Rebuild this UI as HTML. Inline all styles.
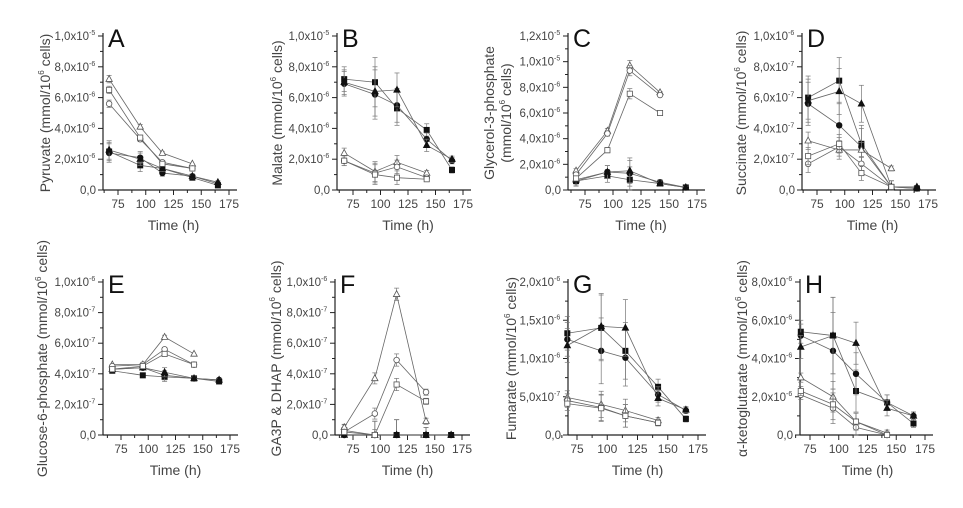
<!DOCTYPE html>
<html><head><meta charset="utf-8"><style>
html,body{margin:0;padding:0;background:#fff;}
svg{display:block;font-family:"Liberation Sans",sans-serif;}
</style></head><body>
<svg id="fig" width="963" height="508" viewBox="0 0 963 508" xmlns="http://www.w3.org/2000/svg"></svg>
<script>
// time points (h)
const times = [67, 95, 115, 142, 165];
const xTicks = [75, 100, 125, 150, 175];
// series order: filled square, filled circle, filled triangle, open triangle, open circle, open square
// Panel A Pyruvate (x1e-6)
const aFsq=[2.5,1.6,1.4,0.8,0.3], aFci=[2.4,2.1,1.1,0.9,0.4], aFtr=[2.6,2.0,1.4,0.9,0.5];
const aOtr=[7.2,4.1,2.4,1.7], aOci=[5.6,3.3,1.8,1.4], aOsq=[6.5,3.4,1.7,1.4];
const aErr=[0.6,0.4,0.2,0.15,0.1];
// Panel B Malate (x1e-6)
const bFsq=[7.2,7.0,5.3,3.9,1.3], bFci=[6.9,6.2,5.5,3.3,1.9], bFtr=[7.0,6.4,6.5,2.9,2.0];
const bOtr=[2.4,1.2,1.8,1.1], bOci=[1.9,1.1,1.5,0.8], bOsq=[1.9,1.0,0.8,0.7];
const bErr=[0.8,1.6,1.1,0.4,0.2];
// Panel C Glycerol-3-phosphate (x1e-6)
const cFsq=[0.7,1.1,0.8,0.5,0.2], cFci=[0.7,1.4,1.3,0.6,0.2], cFtr=[0.8,1.4,1.5,0.5,0.2];
const cOtr=[1.5,4.6,9.7,7.6], cOci=[1.2,4.4,9.3,7.4], cOsq=[0.9,3.1,7.5,6.0];
const cErr=[0.4,0.5,1.0,0.2,0.1];
// Panel D Succinate (x1e-7)
const dFsq=[6.0,7.1,3.0,0.2,0.1], dFci=[5.6,4.2,2.8,0.2,0.1], dFtr=[5.8,6.4,5.6,0.2,0.2];
const dOtr=[3.2,2.6,2.6,1.4], dOci=[1.7,2.8,1.7,0.2], dOsq=[2.2,3.0,1.1,0.2];
const dErr=[1.4,1.5,1.2,0.4,0.1];
// Panel E Glucose-6-phosphate (x1e-7)
const eFsq=[4.2,3.9,3.8,3.7,3.5], eFci=[4.3,4.4,3.9,3.7,3.6], eFtr=[4.3,4.4,4.1,3.7,3.6];
const eOtr=[4.6,4.6,6.4,5.3], eOci=[4.5,4.6,5.6,4.6], eOsq=[4.3,4.5,5.3,4.6];
const eErr=[0.15,0.1,0.3,0.1,0.1];
// Panel F GA3P & DHAP (x1e-7)
const fFsq=[0.3,0,0,0,0], fFci=[0,0,0,0,0], fFtr=[0,0,0,0,0];
const fOtr=[0.5,3.7,9.2,0.9], fOci=[0.2,1.4,4.9,2.8], fOsq=[0.2,0.0,3.3,2.2];
const fErr=[0.4,0.9,1.0,0.5,0];
// Panel G Fumarate (x1e-7)
const gFsq=[13.3,14.0,11.0,6.3,2.1], gFci=[12.5,11.0,10.1,5.3,3.2], gFtr=[11.7,14.2,14.0,4.8,3.3];
const gOtr=[4.9,4.0,3.2,1.9], gOci=[4.5,3.6,2.5,1.6], gOsq=[4.1,3.5,2.5,1.6];
const gErr=[2.2,4.3,3.7,1.0,0.4];
// Panel H alpha-ketoglutarate (x1e-6)
const hFsq=[5.4,5.2,2.3,1.7,0.6], hFci=[5.2,4.4,3.2,1.7,1.0], hFtr=[4.6,5.2,4.8,1.4,1.0];
const hOtr=[3.0,2.0,0.7,0.1], hOci=[2.1,1.4,0.4,0.0], hOsq=[2.3,1.6,0.7,0.0];
const hErr=[0.6,2.0,1.1,0.4,0.2];
// y tick labels
const ticksA=[[0,"0,0",""],[2,"2,0x10","-6"],[4,"4,0x10","-6"],[6,"6,0x10","-6"],[8,"8,0x10","-6"],[10,"1,0x10","-5"]];
const ticksC=[[0,"0,0",""],[2,"2,0x10","-6"],[4,"4,0x10","-6"],[6,"6,0x10","-6"],[8,"8,0x10","-6"],[10,"1,0x10","-5"],[12,"1,2x10","-5"]];
const ticksD=[[0,"0,0",""],[2,"2,0x10","-7"],[4,"4,0x10","-7"],[6,"6,0x10","-7"],[8,"8,0x10","-7"],[10,"1,0x10","-6"]];
const ticksG=[[0,"0,0",""],[5,"5,0x10","-7"],[10,"1,0x10","-6"],[15,"1,5x10","-6"],[20,"2,0x10","-6"]];
const ticksH=[[0,"0,0",""],[2,"2,0x10","-6"],[4,"4,0x10","-6"],[6,"6,0x10","-6"],[8,"8,0x10","-6"]];

const NS="http://www.w3.org/2000/svg";
const svg=document.getElementById('fig');
function mk(tag,attrs,parent){const e=document.createElementNS(NS,tag);for(const k in attrs)e.setAttribute(k,attrs[k]);(parent||svg).appendChild(e);return e;}

function panel(p){
  const g=mk('g',{});
  
  
  const top=p.row?282:36, bot=p.row?435:190;
  const xs=v=>p.t75+(v-75)*(p.t175-p.t75)/100;
  const ys=v=>bot-(v/p.ymax)*(bot-top);
  const xEnd=p.t175+8;
  const ya=mk('line',{x1:p.ax,y1:top-3,x2:p.ax,y2:bot,stroke:'#222','stroke-width':1.2},g);
  
  
  const xa=mk('line',{x1:p.ax,y1:bot,x2:xEnd,y2:bot,stroke:'#222','stroke-width':1.2},g);
  
  
  xTicks.forEach(t=>{
    const x=xs(t);
    mk('line',{x1:x,y1:bot,x2:x,y2:bot+5,stroke:'#222','stroke-width':1},g);
    mk('line',{x1:x-(p.t175-p.t75)/8,y1:bot,x2:x-(p.t175-p.t75)/8,y2:bot+3,stroke:'#222','stroke-width':1},g);
    const tl=mk('text',{x:x,y:bot+18,'font-size':12,'text-anchor':'middle',fill:'#444'},g);
    tl.textContent=t;
    
    
  });
  p.ticks.forEach((tk,i)=>{
    const y=ys(tk[0]);
    mk('line',{x1:p.ax-5,y1:y,x2:p.ax,y2:y,stroke:'#222','stroke-width':1},g);
    if(i<p.ticks.length-1){const ym=(y+ys(p.ticks[i+1][0]))/2;mk('line',{x1:p.ax-3,y1:ym,x2:p.ax,y2:ym,stroke:'#222','stroke-width':1},g);}
    const tl=mk('text',{x:p.ax-7-(tk[2]?7:0),y:y+4,'font-size':11.5,'text-anchor':'end',fill:'#444'},g);
    tl.textContent=tk[1];
    
    
    if(tk[2]){const s=mk('text',{x:p.ax-14,y:y-1,'font-size':7,fill:'#444'},g);s.textContent=tk[2];}
  });
  const L=mk('text',{x:p.ax+5,y:top+11,'font-size':25,fill:'#111'},g);
  L.textContent=p.letter;
  
  
  const xt=mk('text',{x:(p.t75+p.t175)/2,y:bot+40,'font-size':14,'text-anchor':'middle',fill:'#444'},g);
  xt.textContent='Time (h)';
  
  
  const cy=(top+bot)/2;
  p.ytitle.forEach((line,i)=>{
    const t=mk('text',{x:0,y:0,'font-size':14,'text-anchor':'middle',fill:'#444',transform:`translate(${p.tx[i]+5},${cy}) rotate(-90)`},g);
    
    
    if(line.indexOf('10^6')>=0){
      const parts=line.split('10^6');
      t.appendChild(document.createTextNode(parts[0]+'10'));
      const sp=mk('tspan',{'font-size':8,dy:-6},t);sp.textContent='6';
      const r=mk('tspan',{dy:6},t);r.textContent=parts[1];
    } else t.textContent=line;
  });
  const kinds=[['sq',true],['ci',true],['tr',true],['tr',false],['ci',false],['sq',false]];
  p.series.forEach((vals,si)=>{
    const [shape,filled]=kinds[si];
    const pts=vals.map((v,i)=>[xs(times[i]),ys(v)]);
    const pl=mk('polyline',{points:pts.map(q=>q.join(',')).join(' '),fill:'none',stroke:'#666','stroke-width':0.8},g);
    
    
    vals.forEach((v,i)=>{
      const e=p.err[i]*(filled?1:0.4);
      if(e>0.08){
        const x=xs(times[i]),y1=ys(v+e),y2=ys(Math.max(0,v-e));
        mk('line',{x1:x,y1:y1,x2:x,y2:y2,stroke:'#777','stroke-width':0.7},g);
        mk('line',{x1:x-2.5,y1:y1,x2:x+2.5,y2:y1,stroke:'#777','stroke-width':0.7},g);
        mk('line',{x1:x-2.5,y1:y2,x2:x+2.5,y2:y2,stroke:'#777','stroke-width':0.7},g);
      }
    });
    pts.forEach(([x,y])=>{
      const st={fill:filled?'#111':'#fff',stroke:filled?'#111':'#555','stroke-width':0.8};
      let m;
      if(shape==='sq')m=mk('rect',Object.assign({x:x-2.6,y:y-2.6,width:5.2,height:5.2},st),g);
      else if(shape==='ci')m=mk('circle',Object.assign({cx:x,cy:y,r:2.8},st),g);
      else m=mk('polygon',Object.assign({points:`${x},${y-3.6} ${x-3.2},${y+2.3} ${x+3.2},${y+2.3}`},st),g);
      
      
    });
  });
}

panel({letter:'A',row:0,ax:103,t75:118,t175:229,ymax:10,ticks:ticksA,ytitle:['Pyruvate (mmol/10^6 cells)'],tx:[45],
  series:[aFsq,aFci,aFtr,aOtr,aOci,aOsq],err:aErr});
panel({letter:'B',row:0,ax:337,t75:353,t175:463,ymax:10,ticks:ticksA,ytitle:['Malate (mmol/10^6 cells)'],tx:[277],
  series:[bFsq,bFci,bFtr,bOtr,bOci,bOsq],err:bErr});
panel({letter:'C',row:0,ax:568,t75:585,t175:697,ymax:12,ticks:ticksC,ytitle:['Glycerol-3-phosphate','(mmol/10^6 cells)'],tx:[489,506],
  series:[cFsq,cFci,cFtr,cOtr,cOci,cOsq],err:cErr});
panel({letter:'D',row:0,ax:802,t75:817,t175:928,ymax:10,ticks:ticksD,ytitle:['Succinate (mmol/10^6 cells)'],tx:[741],
  series:[dFsq,dFci,dFtr,dOtr,dOci,dOsq],err:dErr});
panel({letter:'E',row:1,ax:103,t75:121,t175:230,ymax:10,ticks:ticksD,ytitle:['Glucose-6-phosphate (mmol/10^6 cells)'],tx:[42],
  series:[eFsq,eFci,eFtr,eOtr,eOci,eOsq],err:eErr});
panel({letter:'F',row:1,ax:335,t75:353,t175:462,ymax:10,ticks:ticksD,ytitle:['GA3P & DHAP (mmol/10^6 cells)'],tx:[276],
  series:[fFsq,fFci,fFtr,fOtr,fOci,fOsq],err:fErr});
panel({letter:'G',row:1,ax:568,t75:577,t175:698,ymax:20,ticks:ticksG,ytitle:['Fumarate (mmol/10^6 cells)'],tx:[511],
  series:[gFsq,gFci,gFtr,gOtr,gOci,gOsq],err:gErr});
panel({letter:'H',row:1,ax:800,t75:810,t175:925,ymax:8,ticks:ticksH,ytitle:['\u03b1-ketoglutarate (mmol/10^6 cells)'],tx:[742],
  series:[hFsq,hFci,hFtr,hOtr,hOci,hOsq],err:hErr});
</script>
</body></html>
